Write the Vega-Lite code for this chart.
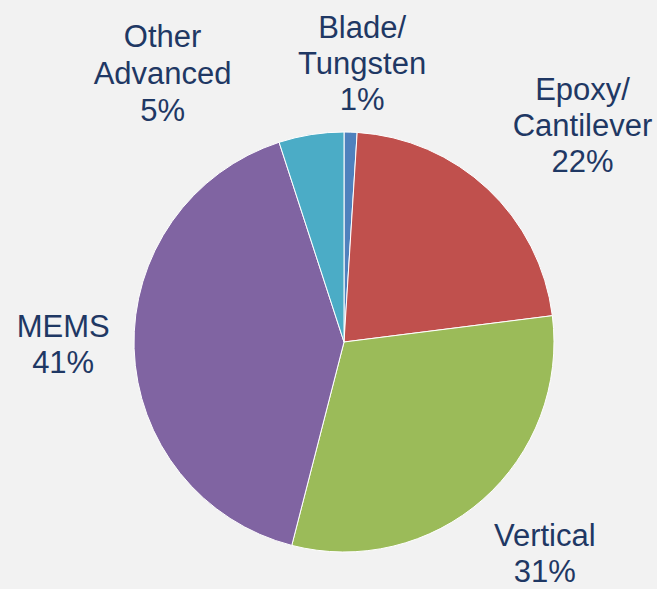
{
  "$schema": "https://vega.github.io/schema/vega-lite/v6.json",
  "width": 626,
  "height": 494,
  "autosize": {"type": "none"},
  "padding": {"left": 31, "right": 0, "top": 95, "bottom": 0},
  "background": "#f2f2f2",
  "view": {"stroke": null},
  "data": {
    "values": [
      {"k": 1, "category": "Blade/Tungsten", "label": "Blade/\nTungsten\n1%", "value": 1},
      {"k": 2, "category": "Epoxy/Cantilever", "label": "Epoxy/\nCantilever\n22%", "value": 22},
      {"k": 3, "category": "Vertical", "label": "Vertical\n31%", "value": 31},
      {"k": 4, "category": "MEMS", "label": "MEMS\n41%", "value": 41},
      {"k": 5, "category": "Other Advanced", "label": "Other\nAdvanced\n5%", "value": 5}
    ]
  },
  "transform": [
    {"window": [{"op": "sum", "field": "value", "as": "cum"}], "sort": [{"field": "k"}], "frame": [null, 0]},
    {"calculate": "datum.cum - datum.value", "as": "start"},
    {"calculate": "datum.cum - datum.value / 2", "as": "mid"}
  ],
  "layer": [
    {
      "mark": {"type": "arc", "outerRadius": 210, "stroke": "#ffffff", "strokeWidth": 1},
      "encoding": {
        "theta": {"field": "start", "type": "quantitative", "scale": {"domain": [0, 100]}},
        "theta2": {"field": "cum"},
        "color": {
          "field": "category",
          "type": "nominal",
          "scale": {
            "domain": ["Blade/Tungsten", "Epoxy/Cantilever", "Vertical", "MEMS", "Other Advanced"],
            "range": ["#4f81bd", "#c0504d", "#9bbb59", "#8064a2", "#4bacc6"]
          },
          "legend": null
        }
      }
    },
    {
      "transform": [{"filter": "datum.k == 1 || datum.k == 3 || datum.k == 4"}],
      "mark": {"type": "text", "radius": 290, "dx": 9, "dy": -23, "font": "Liberation Sans", "fontSize": 31, "lineHeight": 36, "fill": "#1f3864", "align": "center", "baseline": "middle", "lineBreak": "\n"},
      "encoding": {
        "theta": {"field": "mid", "type": "quantitative"},
        "text": {"field": "label"}
      }
    },
    {
      "transform": [{"filter": "datum.k == 2"}],
      "mark": {"type": "text", "radius": 290, "dx": 40, "dy": -40, "font": "Liberation Sans", "fontSize": 31, "lineHeight": 36, "fill": "#1f3864", "align": "center", "baseline": "middle", "lineBreak": "\n"},
      "encoding": {
        "theta": {"field": "mid", "type": "quantitative"},
        "text": {"field": "label"}
      }
    },
    {
      "transform": [{"filter": "datum.k == 5"}],
      "mark": {"type": "text", "radius": 290, "dx": -136, "dy": -18, "font": "Liberation Sans", "fontSize": 31, "lineHeight": 37, "fill": "#1f3864", "align": "center", "baseline": "middle", "lineBreak": "\n"},
      "encoding": {
        "theta": {"field": "mid", "type": "quantitative"},
        "text": {"field": "label"}
      }
    }
  ]
}
